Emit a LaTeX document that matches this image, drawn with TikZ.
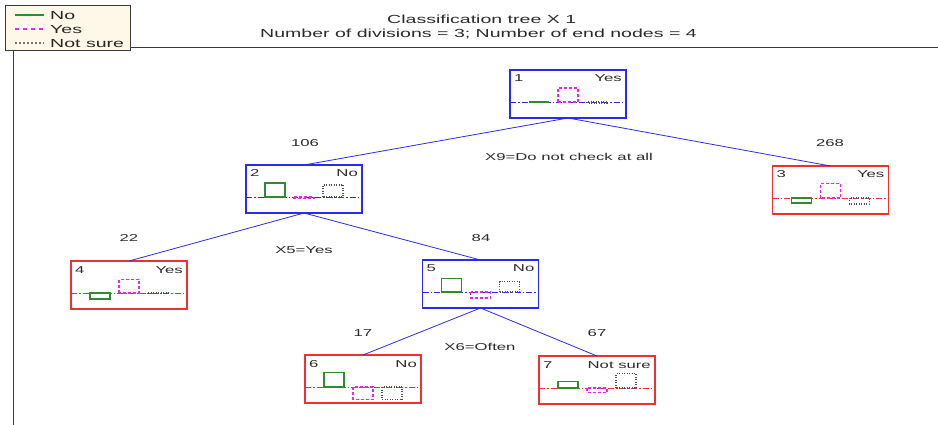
\documentclass[tikz,border=0pt]{standalone}
\usepackage{fontspec}
\newfontfamily\pf[FakeStretch=1.67]{Liberation Sans}
\definecolor{treeblue}{HTML}{2A2AF0}
\definecolor{treered}{HTML}{F03030}
\definecolor{bargreen}{HTML}{2E8B2E}
\definecolor{barmag}{HTML}{F020F0}
\definecolor{bargray}{HTML}{505050}
\definecolor{txt}{HTML}{2A2A2A}
\definecolor{framegray}{HTML}{3A3A3A}
\definecolor{legfill}{HTML}{FFF8E8}
\tikzset{
  treebox/.style={line width=1.3pt, minimum width=116pt, minimum height=48pt, inner sep=0pt, outer sep=0pt},
  bluebox/.style={treebox, draw=treeblue},
  redbox/.style={treebox, draw=treered},
  conn/.style={draw=treeblue, line width=0.8pt},
  lbl/.style={font=\pf\fontsize{10}{12}\selectfont, text=txt, inner sep=0pt, anchor=base},
  boxnum/.style={lbl, anchor=base west},
  boxcls/.style={lbl, anchor=base east},
  titletext/.style={font=\pf\fontsize{11.7}{14}\selectfont, text=txt, inner sep=0pt, anchor=base},
  legtext/.style={font=\pf\fontsize{11.7}{14}\selectfont, text=black!85, inner sep=0pt, anchor=base west},
  basedash/.style={line width=0.8pt, dash pattern=on 6pt off 2pt on 1.5pt off 2pt},
  nobar/.style={draw=bargreen, line width=1.1pt},
  yesbar/.style={draw=barmag, line width=1.1pt, dash pattern=on 3pt off 2pt},
  surebar/.style={draw=bargray, line width=1.1pt, dash pattern=on 1pt off 1.5pt},
  legno/.style={draw=bargreen, line width=1.1pt},
  legyes/.style={draw=barmag, line width=1.1pt, dash pattern=on 4pt off 4pt},
  legsure/.style={draw=bargray!80, line width=1.1pt, dash pattern=on 1.5pt off 2.5pt},
  framestyle/.style={draw=framegray, line width=1.4pt},
  legbox/.style={draw=framegray, line width=1pt, fill=legfill, minimum width=125pt, minimum height=45pt, inner sep=0pt}
}
\newcommand\leafbars[6]{%
  \draw[#3, basedash] (#1,#2+32) -- ++(116,0);
  \draw[nobar] (#1+19,#2+32) rectangle ++(20,{-1*(#4)});
  \draw[yesbar] (#1+48,#2+32) rectangle ++(20,{-1*(#5)});
  \draw[surebar] (#1+77,#2+32) rectangle ++(20,{-1*(#6)});
}
\begin{document}
\begin{tikzpicture}[x=1pt,y=-1pt]
\useasboundingbox (0,0) rectangle (938,425);
% frame
\coordinate (ftl) at (130,47.5);
\coordinate (ftr) at (938,47.5);
\coordinate (flt) at (13.5,51);
\coordinate (flb) at (13.5,425);
\draw[framestyle] (ftl) -- (ftr);
\draw[framestyle] (flt) -- (flb);
% legend
\node[legbox] (legend) at (67.5,28.5) {};
\coordinate (l1a) at (15,15); \coordinate (l1b) at (44,15);
\coordinate (l2a) at (15,29); \coordinate (l2b) at (44,29);
\coordinate (l3a) at (15,43); \coordinate (l3b) at (44,43);
\draw[legno] (l1a) -- (l1b);
\draw[legyes] (l2a) -- (l2b);
\draw[legsure] (l3a) -- (l3b);
\node[legtext] (lt1) at (50,19.5) {No};
\node[legtext] (lt2) at (50,33.5) {Yes};
\node[legtext] (lt3) at (50,47.5) {Not sure};
% title
\node[titletext] (t1) at (481.7,23.5) {Classification tree X 1};
\node[titletext] (t2) at (478.5,37.7) {Number of divisions = 3; Number of end nodes = 4};
% boxes
\node[bluebox] (n1) at (568,94) {};
\node[bluebox] (n2) at (304,189) {};
\node[redbox]  (n3) at (830.5,190) {};
\node[redbox]  (n4) at (129,285) {};
\node[bluebox] (n5) at (480.5,284) {};
\node[redbox]  (n6) at (363,379) {};
\node[redbox]  (n7) at (597,380) {};
% connectors
\draw[conn] (n1.south) -- (n2.north);
\draw[conn] (n1.south) -- (n3.north);
\draw[conn] (n2.south) -- (n4.north);
\draw[conn] (n2.south) -- (n5.north);
\draw[conn] (n5.south) -- (n6.north);
\draw[conn] (n5.south) -- (n7.north);
% bars
\leafbars{510}{70}{treeblue}{0}{14}{-1}
\leafbars{246}{165}{treeblue}{14}{-1.5}{12}
\leafbars{772.5}{166}{treered}{-5}{14.5}{-6}
\leafbars{71}{261}{treered}{-6}{13.5}{-0.5}
\leafbars{422.5}{260}{treeblue}{13.5}{-6}{10.5}
\leafbars{305}{355}{treered}{14.5}{-12.5}{-12.5}
\leafbars{539}{356}{treered}{6.5}{-4.5}{14.5}
% box texts
\node[boxnum] (n1a) at ([xshift=4pt,yshift=-12pt]n1.north west) {1};
\node[boxcls] (n1b) at ([xshift=-4pt,yshift=-12pt]n1.north east) {Yes};
\node[boxnum] (n2a) at ([xshift=4pt,yshift=-12pt]n2.north west) {2};
\node[boxcls] (n2b) at ([xshift=-4pt,yshift=-12pt]n2.north east) {No};
\node[boxnum] (n3a) at ([xshift=4pt,yshift=-12pt]n3.north west) {3};
\node[boxcls] (n3b) at ([xshift=-4pt,yshift=-12pt]n3.north east) {Yes};
\node[boxnum] (n4a) at ([xshift=4pt,yshift=-12pt]n4.north west) {4};
\node[boxcls] (n4b) at ([xshift=-4pt,yshift=-12pt]n4.north east) {Yes};
\node[boxnum] (n5a) at ([xshift=4pt,yshift=-12pt]n5.north west) {5};
\node[boxcls] (n5b) at ([xshift=-4pt,yshift=-12pt]n5.north east) {No};
\node[boxnum] (n6a) at ([xshift=4pt,yshift=-12pt]n6.north west) {6};
\node[boxcls] (n6b) at ([xshift=-4pt,yshift=-12pt]n6.north east) {No};
\node[boxnum] (n7a) at ([xshift=4pt,yshift=-12pt]n7.north west) {7};
\node[boxcls] (n7b) at ([xshift=-4pt,yshift=-12pt]n7.north east) {Not sure};
% edge labels
\node[lbl] (c2) at (305,147) {106};
\node[lbl] (c3) at (830,147) {268};
\node[lbl] (s1) at (569,161) {X9=Do not check at all};
\node[lbl] (c4) at (129,242) {22};
\node[lbl] (c5) at (481,241) {84};
\node[lbl] (s2) at (304,254) {X5=Yes};
\node[lbl] (c6) at (363,336) {17};
\node[lbl] (c7) at (597,336) {67};
\node[lbl] (s3) at (480,350) {X6=Often};
\end{tikzpicture}
\end{document}
